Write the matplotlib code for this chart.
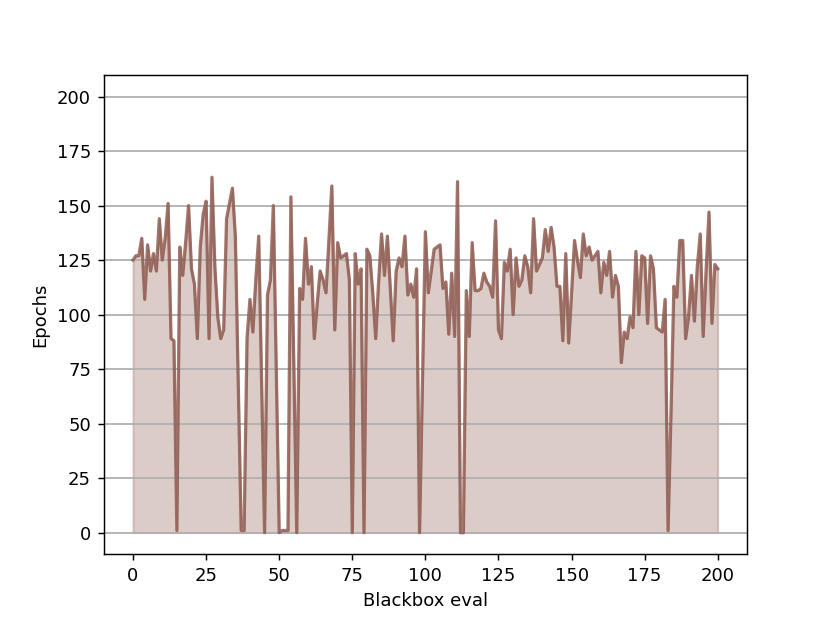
import matplotlib
matplotlib.use("Agg")
import matplotlib.pyplot as plt
import numpy as np

# epochs per blackbox evaluation
epochs = [
    125, 127, 127, 135, 107, 132, 120, 128, 120, 144,
    125, 135, 151, 89, 88, 1, 131, 118, 133, 150,
    121, 114, 89, 131, 146, 152, 89, 163, 122, 99,
    89, 93, 144, 151, 158, 136, 68, 1, 1, 89,
    107, 92, 116, 136, 68, 0, 109, 116, 150, 75,
    0, 1, 1, 1, 154, 77, 0, 112, 107, 135,
    114, 122, 89, 105, 120, 116, 110, 134, 159, 93,
    133, 126, 127, 128, 116, 0, 128, 114, 121, 0,
    130, 127, 110, 89, 115, 137, 118, 136, 112, 88,
    120, 126, 122, 136, 109, 114, 108, 121, 0, 69,
    138, 110, 120, 130, 131, 132, 112, 115, 91, 119,
    90, 161, 0, 0, 111, 90, 133, 111, 111, 112,
    119, 115, 113, 108, 143, 93, 89, 124, 120, 130,
    100, 126, 113, 116, 127, 122, 110, 144, 120, 123,
    126, 139, 129, 140, 131, 113, 113, 88, 128, 87,
    110, 134, 125, 117, 137, 127, 131, 125, 127, 129,
    110, 124, 118, 129, 108, 118, 113, 78, 92, 89,
    99, 94, 129, 100, 127, 126, 96, 127, 121, 94,
    93, 92, 107, 1, 55, 113, 108, 134, 134, 89,
    99, 118, 97, 122, 137, 90, 120, 147, 96, 123,
    121,
]
evals = np.arange(len(epochs))

# default 6.4x4.8 figure, rendered at ~130 dpi
fig, ax = plt.subplots(figsize=(830 / 130, 623 / 130), dpi=130)

ax.fill_between(evals, epochs, color="tab:brown", alpha=0.3)
ax.plot(evals, epochs, color="tab:brown", alpha=0.8, linewidth=1.8)

ax.set_ylim(-10, 210)
ax.set_yticks(np.arange(0, 201, 25))
ax.yaxis.grid(True, color="#b0b0b0", linewidth=1.0)
ax.set_xlabel("Blackbox eval")
ax.set_ylabel("Epochs")

plt.savefig("out.png")
